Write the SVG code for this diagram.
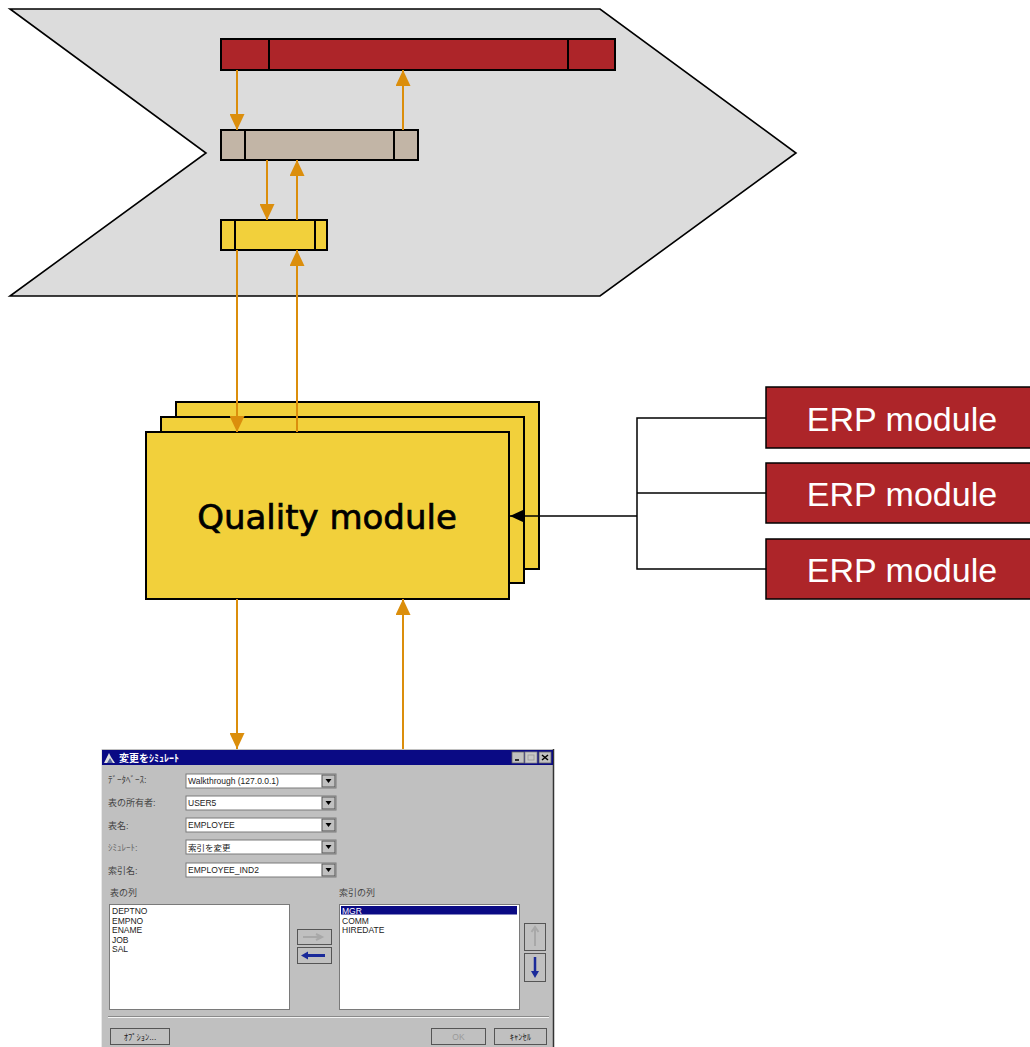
<svg xmlns="http://www.w3.org/2000/svg" width="1030" height="1047" viewBox="0 0 1030 1047">
  <defs>
    <style>
      .bg { fill: #ffffff; }
      .stage { fill: #dcdcdc; stroke: #000; stroke-width: 1.6; stroke-linejoin: miter; }
      .bar { stroke: #000; stroke-width: 2; }
      .div { stroke: #000; stroke-width: 2; }
      .red { fill: #ad2529; }
      .tan { fill: #c2b5a6; }
      .yel { fill: #f2d03b; }
      .flow { stroke: #db8e0c; stroke-width: 2; fill: none; }
      .link { stroke: #000; stroke-width: 1.5; fill: none; }
      .qm { fill: #f2d03b; stroke: #000; stroke-width: 2; }
      .qtext { font-family: "DejaVu Sans", "Liberation Sans", sans-serif; font-size: 34px; fill: #000; stroke: #000; stroke-width: 0.7; }
      .erp { fill: #ad2529; stroke: #000; stroke-width: 1.5; }
      .erptext { font-family: "Liberation Sans", sans-serif; font-size: 34px; fill: #fff; }
      .win { fill: #c0c0c0; }
      .ui { font-family: "Liberation Sans", "Noto Sans CJK JP", sans-serif; font-size: 8.5px; fill: #222; }
      .ui-sel { fill: #fff; }
      .ui-off { fill: #9a9a9a; }
      .lbl { font-family: "Liberation Sans", "Noto Sans CJK JP", sans-serif; font-size: 9px; fill: #444; }
      .lbl-dim { fill: #666; }
      .field { fill: #fff; stroke: #7a7a7a; stroke-width: 1; }
      .btn { fill: #c0c0c0; stroke: #555; stroke-width: 1; }
    </style>
    <marker id="oa" markerUnits="userSpaceOnUse" markerWidth="16" markerHeight="15" refX="16" refY="7.5" orient="auto">
      <path d="M0,0 L16,7.5 L0,15 z" fill="#db8e0c"/>
    </marker>
    <marker id="ba" markerUnits="userSpaceOnUse" markerWidth="14" markerHeight="13" refX="14" refY="6.5" orient="auto">
      <path d="M0,0 L14,6.5 L0,13 z" fill="#000"/>
    </marker>
  </defs>

  <rect class="bg" x="0" y="0" width="1030" height="1047"/>

  <!-- process stage chevron -->
  <g id="stage">
    <polygon class="stage" points="10,9 600,9 796,153 600,296 10,296 206,153"/>
  </g>

  <!-- layered bars -->
  <g id="bar-top">
    <rect class="bar red" x="221" y="39" width="394" height="31"/>
    <line class="div" x1="269" y1="39" x2="269" y2="70"/>
    <line class="div" x1="568" y1="39" x2="568" y2="70"/>
  </g>
  <g id="bar-mid">
    <rect class="bar tan" x="221" y="130" width="197" height="30"/>
    <line class="div" x1="245" y1="130" x2="245" y2="160"/>
    <line class="div" x1="394" y1="130" x2="394" y2="160"/>
  </g>
  <g id="bar-low">
    <rect class="bar yel" x="221" y="220" width="106" height="30"/>
    <line class="div" x1="235" y1="220" x2="235" y2="250"/>
    <line class="div" x1="315" y1="220" x2="315" y2="250"/>
  </g>

  <!-- quality module stack -->
  <g id="quality-module">
    <rect class="qm" x="176" y="402" width="363" height="167"/>
    <rect class="qm" x="161" y="417" width="363" height="166"/>
    <rect class="qm" x="146" y="432" width="363" height="167"/>
    <text class="qtext" x="327" y="529" text-anchor="middle">Quality module</text>
  </g>

  <!-- ERP modules -->
  <g id="erp-1">
    <rect class="erp" x="766" y="387" width="280" height="61"/>
    <text class="erptext" x="902" y="431" text-anchor="middle">ERP module</text>
  </g>
  <g id="erp-2">
    <rect class="erp" x="766" y="463" width="280" height="60"/>
    <text class="erptext" x="902" y="506" text-anchor="middle">ERP module</text>
  </g>
  <g id="erp-3">
    <rect class="erp" x="766" y="539" width="280" height="60"/>
    <text class="erptext" x="902" y="582" text-anchor="middle">ERP module</text>
  </g>

  <!-- connectors -->
  <g id="connectors">
    <line class="flow" x1="237" y1="70" x2="237" y2="130" marker-end="url(#oa)"/>
    <line class="flow" x1="403" y1="130" x2="403" y2="70" marker-end="url(#oa)"/>
    <line class="flow" x1="267" y1="160" x2="267" y2="220" marker-end="url(#oa)"/>
    <line class="flow" x1="297" y1="220" x2="297" y2="160" marker-end="url(#oa)"/>
    <line class="flow" x1="237" y1="250" x2="237" y2="432" marker-end="url(#oa)"/>
    <line class="flow" x1="297" y1="432" x2="297" y2="250" marker-end="url(#oa)"/>
    <line class="flow" x1="237" y1="599" x2="237" y2="749" marker-end="url(#oa)"/>
    <line class="flow" x1="403" y1="750" x2="403" y2="599" marker-end="url(#oa)"/>
    <polyline class="link" points="766,418 637,418 637,569 766,569"/>
    <line class="link" x1="637" y1="493" x2="766" y2="493"/>
    <line class="link" x1="637" y1="516" x2="510" y2="516" marker-end="url(#ba)"/>
  </g>

  <!-- simulation dialog -->
  <g id="dialog">
    <rect class="win" x="101" y="749" width="453" height="298"/>
    <line x1="553.5" y1="749" x2="553.5" y2="1047" stroke="#333" stroke-width="1.5"/>
    <line x1="101.5" y1="749" x2="101.5" y2="1047" stroke="#e8e8e8" stroke-width="1"/>
    <!-- title bar -->
    <rect x="102" y="750" width="451" height="15" fill="#0a0a84"/>
    <path d="M104,763 L109,753 L111,757 L115,763 Z" fill="#e0e0e0"/>
    <path d="M107,763 L110,758 L113,763 Z" fill="#5060a0"/>
    <text x="119" y="761.5" font-family="Noto Sans CJK JP, sans-serif" font-size="10" font-weight="700" fill="#fff">変更をｼﾐｭﾚｰﾄ</text>
    <rect x="512" y="752" width="12" height="11" fill="#c0c0c0" stroke="#666" stroke-width="0.8"/>
    <line x1="515" y1="760" x2="519" y2="760" stroke="#000" stroke-width="1.5"/>
    <rect x="525" y="752" width="12" height="11" fill="#c8c8c8" stroke="#888" stroke-width="0.8"/>
    <rect x="528" y="755" width="6" height="5" fill="none" stroke="#999" stroke-width="0.8"/>
    <rect x="539" y="752" width="12" height="11" fill="#c0c0c0" stroke="#666" stroke-width="0.8"/>
    <path d="M542,755 L548,760 M548,755 L542,760" stroke="#000" stroke-width="1.5"/>

    <!-- field labels -->
    <text class="lbl" x="108" y="783">ﾃﾞｰﾀﾍﾞｰｽ:</text>
    <text class="lbl" x="108" y="806">表の所有者:</text>
    <text class="lbl" x="108" y="829">表名:</text>
    <text class="lbl lbl-dim" x="108" y="851">ｼﾐｭﾚｰﾄ:</text>
    <text class="lbl" x="108" y="874">索引名:</text>

    <!-- combo boxes -->
    <g>
      <rect class="field" x="186" y="774" width="150" height="14"/>
      <rect class="btn" x="322" y="775" width="13" height="12"/>
      <path d="M325.5,779 L331.5,779 L328.5,783 Z" fill="#000"/>
      <text class="ui" x="188" y="784">Walkthrough (127.0.0.1)</text>
    </g>
    <g>
      <rect class="field" x="186" y="796" width="150" height="14"/>
      <rect class="btn" x="322" y="797" width="13" height="12"/>
      <path d="M325.5,801 L331.5,801 L328.5,805 Z" fill="#000"/>
      <text class="ui" x="188" y="806">USER5</text>
    </g>
    <g>
      <rect class="field" x="186" y="818" width="150" height="14"/>
      <rect class="btn" x="322" y="819" width="13" height="12"/>
      <path d="M325.5,823 L331.5,823 L328.5,827 Z" fill="#000"/>
      <text class="ui" x="188" y="828">EMPLOYEE</text>
    </g>
    <g>
      <rect class="field" x="186" y="840" width="150" height="14"/>
      <rect class="btn" x="322" y="841" width="13" height="12"/>
      <path d="M325.5,845 L331.5,845 L328.5,849 Z" fill="#000"/>
      <text class="ui" x="188" y="850.5">索引を変更</text>
    </g>
    <g>
      <rect class="field" x="186" y="863" width="150" height="14"/>
      <rect class="btn" x="322" y="864" width="13" height="12"/>
      <path d="M325.5,868 L331.5,868 L328.5,872 Z" fill="#000"/>
      <text class="ui" x="188" y="873">EMPLOYEE_IND2</text>
    </g>

    <!-- column lists -->
    <text class="lbl" x="110" y="896">表の列</text>
    <text class="lbl" x="339" y="896">索引の列</text>

    <rect class="field" x="109.5" y="904.5" width="180" height="105"/>
    <text class="ui" x="112" y="914">DEPTNO</text>
    <text class="ui" x="112" y="923.5">EMPNO</text>
    <text class="ui" x="112" y="933">ENAME</text>
    <text class="ui" x="112" y="942.5">JOB</text>
    <text class="ui" x="112" y="952">SAL</text>

    <rect class="field" x="339.5" y="904.5" width="180" height="105"/>
    <rect x="341" y="906" width="176" height="8.5" fill="#0a0a84"/>
    <text class="ui ui-sel" x="342" y="913.5">MGR</text>
    <text class="ui" x="342" y="923.5">COMM</text>
    <text class="ui" x="342" y="933">HIREDATE</text>

    <!-- move buttons -->
    <rect class="btn" x="297.5" y="929.5" width="34" height="15"/>
    <path d="M303,937 L320,937 M316,934 L322,937 L316,940" stroke="#a8a8a8" stroke-width="2" fill="none"/>
    <rect class="btn" x="297.5" y="947.5" width="34" height="16"/>
    <path d="M306,955.5 L325,955.5" stroke="#1a2a9a" stroke-width="3"/>
    <path d="M301,955.5 L308,951.5 L308,959.5 Z" fill="#1a2a9a"/>

    <rect class="btn" x="524.5" y="923.5" width="21" height="27"/>
    <path d="M535,946 L535,929 M531.5,932 L535,927 L538.5,932" stroke="#a8a8a8" stroke-width="2" fill="none"/>
    <rect class="btn" x="524.5" y="953.5" width="21" height="28"/>
    <path d="M535,957 L535,972" stroke="#1a2a9a" stroke-width="2.5"/>
    <path d="M531,971 L539,971 L535,978 Z" fill="#1a2a9a"/>

    <!-- separator -->
    <line x1="108" y1="1016.5" x2="549" y2="1016.5" stroke="#8a8a8a" stroke-width="1"/>
    <line x1="108" y1="1017.5" x2="549" y2="1017.5" stroke="#f4f4f4" stroke-width="1"/>

    <!-- dialog buttons -->
    <rect class="btn" x="110.5" y="1028.5" width="59" height="16"/>
    <text class="ui" x="140" y="1039.5" text-anchor="middle">ｵﾌﾟｼｮﾝ...</text>
    <rect class="btn" x="431.5" y="1028.5" width="54" height="16"/>
    <text class="ui ui-off" x="458.5" y="1039.5" text-anchor="middle">OK</text>
    <rect class="btn" x="494.5" y="1028.5" width="52" height="16"/>
    <text class="ui" x="520.5" y="1039.5" text-anchor="middle">ｷｬﾝｾﾙ</text>
  </g>
</svg>
